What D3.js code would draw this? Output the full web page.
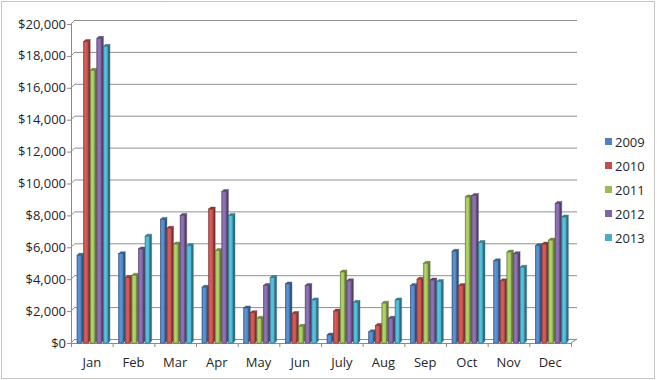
<!DOCTYPE html>
<html>
<head>
<meta charset="utf-8">
<script src="https://cdn.jsdelivr.net/npm/d3@7"></script>
<style>
  body { margin: 0; background: #fff; }
  svg text { font-family: "Open Sans", sans-serif; fill: #262626; }
</style>
</head>
<body>
<div id="chart"></div>
<script>
const months = ["Jan", "Feb", "Mar", "Apr", "May", "Jun", "July", "Aug", "Sep", "Oct", "Nov", "Dec"];
const years = ["2009", "2010", "2011", "2012", "2013"];
const s2009 = [5500, 5600, 7750, 3500, 2200, 3700, 500, 700, 3600, 5750, 5150, 6100];
const s2010 = [18900, 4100, 7200, 8400, 1900, 1850, 2000, 1100, 4000, 3600, 3900, 6200];
const s2011 = [17100, 4250, 6200, 5800, 1550, 1050, 4450, 2500, 5000, 9150, 5700, 6450];
const s2012 = [19100, 5900, 8000, 9500, 3600, 3600, 3900, 1550, 3950, 9250, 5600, 8750];
const s2013 = [18600, 6700, 6100, 8000, 4100, 2700, 2550, 2700, 3850, 6300, 4750, 7900];
const yTicks = [0, 2000, 4000, 6000, 8000, 10000, 12000, 14000, 16000, 18000, 20000];
const colors = ["#4F81BD", "#C0504D", "#9BBB59", "#8064A2", "#4BACC6"];

const seriesList = [s2009, s2010, s2011, s2012, s2013];
const width = 657, height = 380;
const plot = {left: 71, right: 571, top: 24, bottom: 343};
const depth = {dx: 4, dy: -4};
const barDepth = 2;

const svg = d3.select("#chart").append("svg")
    .attr("width", width)
    .attr("height", height);

// chart border
svg.append("rect")
    .attr("x", 1.5).attr("y", 1.5)
    .attr("width", width - 4).attr("height", height - 3)
    .attr("fill", "none")
    .attr("stroke", "#8a8a8a")
    .attr("stroke-dasharray", "1,1");

const x = d3.scaleBand().domain(months).range([plot.left, plot.right]);
const xi = d3.scaleBand().domain(years).range([6, 39]);
const y = d3.scaleLinear().domain([0, 20000]).range([plot.bottom, plot.top]);

const fmt = d => "$" + d3.format(",")(d);

// gradients
const defs = svg.append("defs");
colors.forEach((c, i) => {
    const g = defs.append("linearGradient").attr("id", "g" + i)
        .attr("x1", 0).attr("x2", 1).attr("y1", 0).attr("y2", 0);
    g.append("stop").attr("offset", 0).attr("stop-color", d3.color(c).darker(0.2));
    g.append("stop").attr("offset", 0.4).attr("stop-color", d3.color(c).brighter(0.4));
    g.append("stop").attr("offset", 1).attr("stop-color", c);
});

// back wall gridlines
const grid = svg.append("g");
grid.selectAll("line.grid")
    .data(yTicks)
    .join("line")
    .attr("x1", plot.left + depth.dx).attr("x2", plot.right + depth.dx + 2)
    .attr("y1", d => y(d) + depth.dy + 0.5).attr("y2", d => y(d) + depth.dy + 0.5)
    .attr("stroke", "#8f8f8f");
grid.selectAll("line.diag")
    .data(yTicks)
    .join("line")
    .attr("x1", plot.left).attr("x2", plot.left + depth.dx)
    .attr("y1", d => y(d)).attr("y2", d => y(d) + depth.dy)
    .attr("stroke", "#8f8f8f");

// floor front edge and right edge
svg.append("line")
    .attr("x1", plot.left).attr("x2", plot.right)
    .attr("y1", plot.bottom + 0.5).attr("y2", plot.bottom + 0.5)
    .attr("stroke", "#8a8a8a");
svg.append("line")
    .attr("x1", plot.right).attr("x2", plot.right + depth.dx + 2)
    .attr("y1", plot.bottom).attr("y2", plot.bottom + depth.dy)
    .attr("stroke", "#8a8a8a");

// y axis
svg.append("line")
    .attr("x1", plot.left + 0.5).attr("x2", plot.left + 0.5)
    .attr("y1", plot.top).attr("y2", plot.bottom)
    .attr("stroke", "#8a8a8a");
const yAxis = svg.append("g");
yAxis.selectAll("line")
    .data(yTicks)
    .join("line")
    .attr("x1", plot.left - 4).attr("x2", plot.left)
    .attr("y1", d => y(d) + 0.5).attr("y2", d => y(d) + 0.5)
    .attr("stroke", "#8a8a8a");
yAxis.selectAll("text")
    .data(yTicks)
    .join("text")
    .attr("x", plot.left - 5)
    .attr("y", d => y(d))
    .attr("dy", "0.35em")
    .attr("text-anchor", "end")
    .attr("font-size", 13)
    .text(fmt);

// x axis
const xAxis = svg.append("g");
xAxis.selectAll("line")
    .data(months.concat(["end"]))
    .join("line")
    .attr("x1", (d, i) => plot.left + i * x.bandwidth() + 0.5)
    .attr("x2", (d, i) => plot.left + i * x.bandwidth() + 0.5)
    .attr("y1", plot.bottom).attr("y2", plot.bottom + 4)
    .attr("stroke", "#8a8a8a");
xAxis.selectAll("text")
    .data(months)
    .join("text")
    .attr("x", d => x(d) + x.bandwidth() / 2)
    .attr("y", plot.bottom + 19)
    .attr("dy", "0.35em")
    .attr("text-anchor", "middle")
    .attr("font-size", 13)
    .text(d => d);

// bars
const bars = svg.append("g");
months.forEach((m, mi) => {
    years.forEach((yr, si) => {
        const v = seriesList[si][mi];
        const c = colors[si];
        const x0 = x(m) + xi(yr);
        const w = xi.bandwidth() - barDepth;
        const top = y(v);
        const edge = d3.color(c).darker(1.3);
        const g = bars.append("g");
        // side face
        g.append("path")
            .attr("d", `M${x0 + w},${plot.bottom} L${x0 + w},${top} L${x0 + w + barDepth},${top - barDepth} L${x0 + w + barDepth},${plot.bottom - barDepth} Z`)
            .attr("fill", d3.color(c).darker(1.2))
            .attr("stroke", edge)
            .attr("stroke-width", 0.4);
        // top face
        g.append("path")
            .attr("d", `M${x0},${top} L${x0 + barDepth},${top - barDepth} L${x0 + w + barDepth},${top - barDepth} L${x0 + w},${top} Z`)
            .attr("fill", d3.color(c).darker(0.8))
            .attr("stroke", edge)
            .attr("stroke-width", 0.4);
        // front face
        g.append("rect")
            .attr("x", x0).attr("y", top)
            .attr("width", w).attr("height", plot.bottom - top)
            .attr("fill", `url(#g${si})`)
            .attr("stroke", edge)
            .attr("stroke-width", 0.6);
    });
});

// legend
const legend = svg.append("g");
legend.selectAll("rect")
    .data(years)
    .join("rect")
    .attr("x", 605).attr("y", (d, i) => 138 + i * 24)
    .attr("width", 7).attr("height", 7)
    .attr("fill", (d, i) => colors[i]);
legend.selectAll("text")
    .data(years)
    .join("text")
    .attr("x", 615).attr("y", (d, i) => 142 + i * 24)
    .attr("dy", "0.35em")
    .attr("font-size", 13)
    .text(d => d);
</script>
</body>
</html>
